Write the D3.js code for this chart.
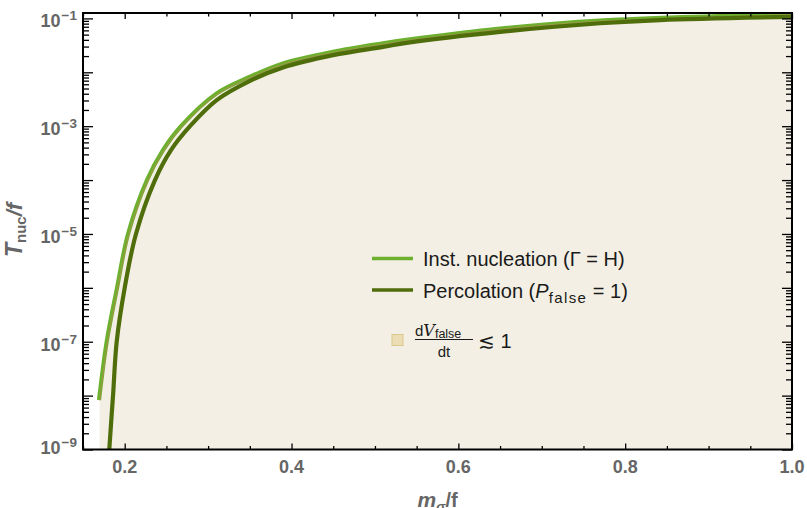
<!DOCTYPE html>
<html><head><meta charset="utf-8">
<script src="https://cdn.jsdelivr.net/npm/d3@7"></script>
<style>
html,body{margin:0;padding:0;background:#fff;}
svg{display:block;font-family:"Liberation Sans",Arial,sans-serif;}
</style></head>
<body><svg id="c" width="807" height="508"></svg>
<script>
// ---- data ----
const instX = [0.1692,0.1784,0.1908,0.204,0.2267,0.2459,0.2675,0.3103,0.3502,0.3898,0.4497,0.5097,0.542,0.650,0.770,1.0];
const instT = [8.28e-9,1e-7,1e-6,1e-5,1e-4,3.6e-4,1e-3,4.06e-3,8.26e-3,1.46e-2,2.40e-2,3.44e-2,4.07e-2,6.46e-2,9.12e-2,0.120];
const percX = [0.1809,0.1815,0.186,0.1904,0.200,0.2135,0.2363,0.2555,0.2783,0.3103,0.3502,0.3898,0.4497,0.5097,0.542,0.650,0.770,0.842,1.0];
const percT = [6.4e-10,1e-9,1e-8,1e-7,1e-6,1e-5,1e-4,3.6e-4,1e-3,3.05e-3,6.95e-3,1.23e-2,2.08e-2,2.97e-2,3.59e-2,5.62e-2,8.13e-2,9.33e-2,0.107];
const regionLeftX = 0.170;
const xMajor = [0.2,0.4,0.6,0.8,1.0];
const xLabels = ["0.2","0.4","0.6","0.8","1.0"];
const yLabelExp = [-9,-7,-5,-3,-1];

const W=807,H=508;
const L=83,R=792,T=13,B=449.5;
const x = d3.scaleLinear().domain([0.15,1.0]).range([L,R]);
const y = d3.scaleLog().domain([1e-9,0.126]).range([B,T]);

const svg = d3.select("#c");
svg.append("defs").append("clipPath").attr("id","clip")
  .append("rect").attr("x",L).attr("y",T).attr("width",R-L).attr("height",B-T);

const inst = instX.map((v,i)=>[v,instT[i]]);
const perc = percX.map((v,i)=>[v,percT[i]]);

const crv = d3.curveCatmullRom.alpha(0.5);
const line = d3.line().x(d=>x(d[0])).y(d=>y(d[1])).curve(crv);
const g = svg.append("g").attr("clip-path","url(#clip)");

// shaded region
const area = d3.area().x(d=>x(d[0])).y0(B+5).y1(d=>y(d[1])).curve(crv);
g.append("path").datum(inst.map(d=>[Math.max(d[0],regionLeftX+0.0005),d[1]]))
  .attr("d",area).attr("fill","#f3efe4");
g.append("rect").attr("x",x(regionLeftX)).attr("y",y(instT[0])).attr("width",x(instX[1])-x(regionLeftX))
  .attr("height",B-y(instT[0])+5).attr("fill","#f3efe4");

g.append("path").datum(inst).attr("d",line).attr("fill","none")
  .attr("stroke","#6cb02e").attr("stroke-width",4.2);
g.append("path").datum(inst).attr("d",line).attr("fill","none")
  .attr("stroke","#b98a55").attr("stroke-width",0.9).attr("opacity",0.8)
  .attr("transform","translate(0.8,0.6)");
g.append("path").datum(perc).attr("d",line).attr("fill","none")
  .attr("stroke","#4f6d0b").attr("stroke-width",4.2);

// axes ticks
const xMinor = d3.range(0.15,1.0001,0.05).filter(v=>!xMajor.some(m=>Math.abs(m-v)<1e-6));
const yMajor = d3.range(-9,0).map(k=>Math.pow(10,k));
const yMinor = [];
for(let k=-9;k<=-1;k++) for(let m=2;m<=9;m++){const v=m*Math.pow(10,k); if(v<=0.126) yMinor.push(v);}

function ax(a, vals, size, tx, ty){
  const gg = svg.append("g").attr("transform",`translate(${tx},${ty})`)
    .call(a.tickValues(vals).tickSizeInner(size).tickSizeOuter(0).tickFormat(""));
  gg.select(".domain").remove();
  gg.selectAll("line").attr("stroke","#000").attr("stroke-width",1.3);
}
ax(d3.axisBottom(x), xMajor, -6, 0, B);
ax(d3.axisBottom(x), xMinor, -3.5, 0, B);
ax(d3.axisTop(x), xMajor, -6, 0, T);
ax(d3.axisTop(x), xMinor, -3.5, 0, T);
ax(d3.axisLeft(y), yMajor, -10, L, 0);
ax(d3.axisLeft(y), yMinor, -6, L, 0);
ax(d3.axisRight(y), yMajor, -10, R, 0);
ax(d3.axisRight(y), yMinor, -6, R, 0);

// frame
svg.append("rect").attr("x",L).attr("y",T).attr("width",R-L).attr("height",B-T)
  .attr("fill","none").attr("stroke","#000").attr("stroke-width",2);

// tick labels
const lab = svg.append("g").attr("fill","#666").attr("font-weight","bold");
xMajor.forEach((v,i)=>{
  lab.append("text").attr("x",x(v)).attr("y",472.5).attr("text-anchor","middle")
    .attr("font-size",18).text(xLabels[i]);
});
yLabelExp.forEach(k=>{
  const yy = Math.min(y(Math.pow(10,k))+9, 454);
  const t = lab.append("text").attr("x",77).attr("y",yy).attr("text-anchor","end").attr("font-size",18);
  t.append("tspan").text("10");
  t.append("tspan").attr("font-size",13.5).attr("dx",1).attr("dy",-7).text("\u2212"+(-k));
});

// axis titles
const yt = svg.append("text").attr("transform","translate(22,230) rotate(-90)")
  .attr("text-anchor","middle").attr("fill","#666").attr("font-weight","bold");
yt.append("tspan").attr("font-style","italic").attr("font-size",23).text("T");
yt.append("tspan").attr("font-size",15).attr("dy",4).text("nuc");
yt.append("tspan").attr("font-size",22).attr("dy",-4).attr("font-style","italic").text("/f");

const xt = svg.append("text").attr("x",437.5).attr("y",506.5).attr("text-anchor","middle")
  .attr("fill","#666").attr("font-weight","bold");
xt.append("tspan").attr("font-style","italic").attr("font-size",21).text("m");
xt.append("tspan").attr("font-style","italic").attr("font-size",14).attr("dy",5).text("\u03c3");
xt.append("tspan").attr("font-size",20).attr("dy",-5).text("/f");

// legend
const lg = svg.append("g").attr("fill","#1a1a1a").attr("font-size",20);
lg.append("line").attr("x1",372).attr("x2",413).attr("y1",258.5).attr("y2",258.5)
  .attr("stroke","#6cb02e").attr("stroke-width",3.5);
lg.append("text").attr("x",423).attr("y",266).text("Inst. nucleation (\u0393 = H)");
lg.append("line").attr("x1",372).attr("x2",413).attr("y1",290).attr("y2",290)
  .attr("stroke","#4f6d0b").attr("stroke-width",3.5);
const t2 = lg.append("text").attr("x",423).attr("y",297.5);
t2.append("tspan").text("Percolation (");
t2.append("tspan").attr("font-style","italic").text("P");
t2.append("tspan").attr("font-size",15).attr("letter-spacing",1.4).attr("dy",5).text("false");
t2.append("tspan").attr("dy",-5).text(" = 1)");

lg.append("rect").attr("x",392).attr("y",334.5).attr("width",11).attr("height",11)
  .attr("fill","#ecdeb4").attr("stroke","#dcc790").attr("stroke-width",1);
const num = lg.append("text").attr("x",415).attr("y",335.5).attr("font-size",15);
num.append("tspan").text("d");
num.append("tspan").attr("font-family","'DejaVu Serif',serif").attr("font-style","italic").attr("font-size",16).text("V");
num.append("tspan").attr("font-size",12.5).attr("dy",2).text("false");
lg.append("line").attr("x1",415).attr("x2",473).attr("y1",339.5).attr("y2",339.5)
  .attr("stroke","#1a1a1a").attr("stroke-width",1);
lg.append("text").attr("x",444).attr("y",356.5).attr("font-size",15).attr("text-anchor","middle").text("dt");
lg.append("text").attr("x",478).attr("y",347.5).attr("font-size",20).text("\u2272 1");
</script></body></html>
